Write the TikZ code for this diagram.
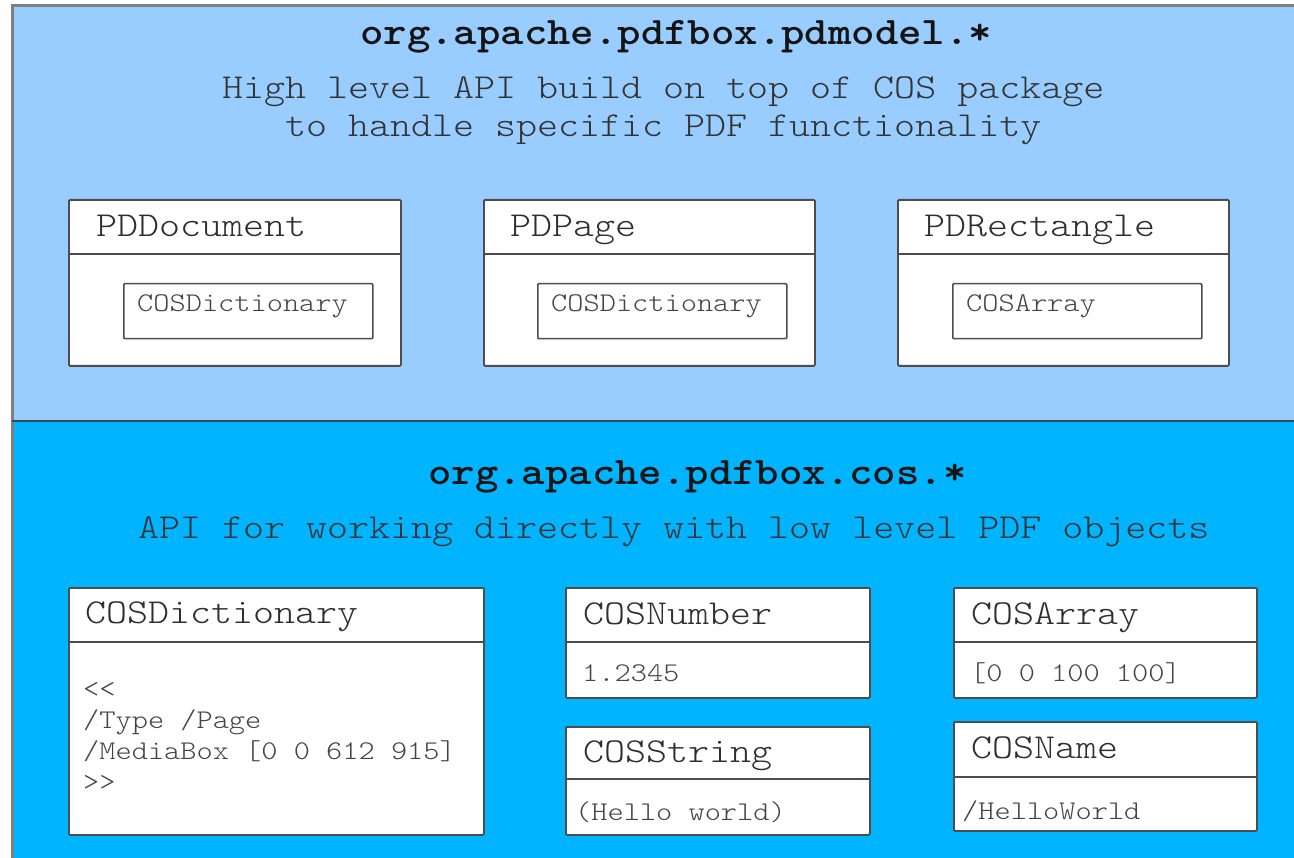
\documentclass[tikz,border=0pt]{standalone}
\usepackage{fontspec}
% slab-serif typewriter face, widened to a 0.6em advance
\newfontfamily\codefont{lmmonolt10-regular.otf}[BoldFont=lmmonolt10-bold.otf, FakeStretch=1.143]
\definecolor{toppanel}{HTML}{99CCFF}
\definecolor{botpanel}{HTML}{00B4FF}
\definecolor{framecol}{HTML}{7F7F7F}
\definecolor{sepcol}{HTML}{34495A}
\definecolor{boxline}{HTML}{4D4D4D}
\definecolor{headcol}{HTML}{2E2E2E}
\definecolor{bodycol}{HTML}{444444}
\definecolor{titlecol}{HTML}{141414}
\definecolor{subcol}{HTML}{333333}

\tikzset{
  panel/.style={inner sep=0pt, outer sep=0pt, anchor=north west},
  classbox/.style={draw=boxline, line width=1.8pt, fill=white, rounded corners=1.2pt,
                   inner sep=0pt, anchor=north west},
  fieldbox/.style={draw=boxline, line width=1.5pt, fill=white, rounded corners=1pt,
                   inner sep=0pt, anchor=north west},
  divider/.style={draw=boxline, line width=1.8pt},
  pkgtitle/.style={anchor=base west, inner sep=0pt, text=titlecol,
                   font=\codefont\bfseries\fontsize{39}{44}\selectfont},
  pkgnote/.style={anchor=base west, inner sep=0pt, text=subcol,
                  font=\codefont\fontsize{35}{38}\selectfont},
  headtxt/.style={anchor=base west, inner sep=0pt, text=headcol,
                  font=\codefont\fontsize{35}{40}\selectfont},
  bodytxt/.style={anchor=base west, inner sep=0pt, text=bodycol,
                  font=\codefont\fontsize{27}{31}\selectfont},
}

% class box: name, left, top, right, bottom, divider y
\newcommand\umlbox[6]{%
  \node[classbox, minimum width={(#4-#2)*1pt}, minimum height={(#5-#3)*1pt}] (#1) at (#2,#3) {};
  \coordinate (#1-div) at (#2,#6);
  \draw[divider] (#1-div) -- (#1.east |- #1-div);
}

\begin{document}
\begin{tikzpicture}[x=1pt,y=-1pt]
\useasboundingbox (0,0) rectangle (1294,858);

% package panels
\node[panel, fill=toppanel, minimum width=1282pt, minimum height=415pt] (pdmodel) at (12,6) {};
\node[panel, fill=botpanel, minimum width=1282pt, minimum height=437pt] (cos) at (12,421) {};
\draw[framecol, line width=3pt] (cos.south west) -- (pdmodel.north west) -- (pdmodel.north east);
\draw[sepcol, line width=2.4pt] (cos.north west) -- (cos.north east);

% pdmodel package
\node[pkgtitle] (pdtitle) at (360,45) {org.apache.pdfbox.pdmodel.*};
\node[pkgnote] (pdnote1) at (222,99) {High level API build on top of COS package};
\node[pkgnote] (pdnote2) at (285,137) {to handle specific PDF functionality};

\umlbox{pddoc}{68}{199}{400}{365}{254}
\node[headtxt] (pddoct) at (96,237) {PDDocument};
\node[fieldbox, minimum width=249pt, minimum height=55pt] (pddocf) at (123,283) {};
\node[bodytxt] (pddocft) at (137,312) {COSDictionary};

\umlbox{pdpage}{483}{199}{814}{365}{254}
\node[headtxt] (pdpaget) at (510,237) {PDPage};
\node[fieldbox, minimum width=249pt, minimum height=55pt] (pdpagef) at (537,283) {};
\node[bodytxt] (pdpageft) at (551,312) {COSDictionary};

\umlbox{pdrect}{897}{199}{1228}{365}{254}
\node[headtxt] (pdrectt) at (924,237) {PDRectangle};
\node[fieldbox, minimum width=249pt, minimum height=55pt] (pdrectf) at (952,283) {};
\node[bodytxt] (pdrectft) at (966,312) {COSArray};

% cos package
\node[pkgtitle] (costitle) at (428,485) {org.apache.pdfbox.cos.*};
\node[pkgnote] (cosnote) at (138,539) {API for working directly with low level PDF objects};

\umlbox{cosdict}{68}{587}{483}{834}{642}
\node[headtxt] (cosdictt) at (85,623) {COSDictionary};
\node[bodytxt] (cosdict1) at (83,697) {<{}<};
\node[bodytxt] (cosdict2) at (83,728) {/Type /Page};
\node[bodytxt] (cosdict3) at (83,759) {/MediaBox [0 0 612 915]};
\node[bodytxt] (cosdict4) at (83,790) {>{}>};

\umlbox{cosnum}{565}{587}{869}{697}{642}
\node[headtxt] (cosnumt) at (583,624) {COSNumber};
\node[bodytxt] (cosnumv) at (582,681) {1.2345};

\umlbox{cosstr}{565}{726}{869}{834}{779}
\node[headtxt] (cosstrt) at (583,762) {COSString};
\node[bodytxt] (cosstrv) at (575,820) {(Hello world)};

\umlbox{cosarr}{953}{587}{1256}{697}{642}
\node[headtxt] (cosarrt) at (971,624) {COSArray};
\node[bodytxt] (cosarrv) at (970,681) {[0 0 100 100]};

\umlbox{cosname}{953}{721}{1256}{830}{777}
\node[headtxt] (cosnamet) at (971,758) {COSName};
\node[bodytxt] (cosnamev) at (962,819) {/HelloWorld};
\end{tikzpicture}
\end{document}
